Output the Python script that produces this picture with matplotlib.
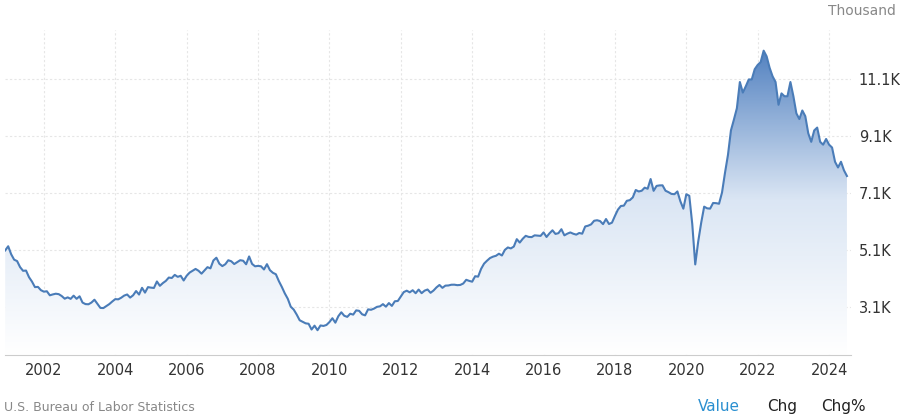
import numpy as np
import matplotlib.pyplot as plt
from matplotlib.colors import LinearSegmentedColormap

# job openings, thousands, monthly from Dec 2000
start_year = 2000 + 11 / 12
openings = [
    5088,
    5234, 4954, 4763, 4713, 4501, 4372, 4381, 4148, 3993, 3799, 3808, 3692,
    3640, 3654, 3512, 3543, 3568, 3552, 3486, 3393, 3440, 3387, 3499, 3389,
    3478, 3256, 3203, 3197, 3258, 3357, 3211, 3069, 3064, 3133, 3204, 3295,
    3378, 3370, 3427, 3502, 3541, 3432, 3512, 3662, 3538, 3775, 3606, 3799,
    3781, 3770, 3998, 3845, 3941, 4017, 4135, 4120, 4229, 4160, 4197, 4032,
    4197, 4309, 4373, 4438, 4373, 4272, 4384, 4500, 4458, 4736, 4832, 4621,
    4537, 4603, 4743, 4707, 4609, 4675, 4744, 4726, 4601, 4876, 4614, 4530,
    4545, 4531, 4419, 4605, 4395, 4302, 4251, 4011, 3807, 3580, 3391, 3112,
    3010, 2836, 2636, 2580, 2528, 2513, 2311, 2446, 2287, 2453, 2437, 2470,
    2571, 2707, 2551, 2778, 2916, 2793, 2755, 2865, 2834, 2983, 2967, 2845,
    2808, 3018, 3004, 3045, 3107, 3124, 3202, 3113, 3239, 3140, 3303, 3312,
    3469, 3625, 3674, 3616, 3690, 3585, 3713, 3587, 3675, 3716, 3600, 3679,
    3790, 3875, 3774, 3852, 3857, 3883, 3885, 3868, 3876, 3926, 4056, 4018,
    3990, 4182, 4167, 4439, 4624, 4728, 4820, 4869, 4899, 4972, 4910, 5107,
    5192, 5158, 5223, 5483, 5363, 5497, 5600, 5562, 5555, 5617, 5606, 5598,
    5720, 5560, 5688, 5794, 5667, 5693, 5832, 5617, 5676, 5719, 5673, 5642,
    5700, 5675, 5929, 5956, 6003, 6129, 6147, 6118, 6010, 6190, 6015, 6062,
    6299, 6519, 6648, 6659, 6830, 6852, 6949, 7209, 7157, 7183, 7291, 7253,
    7594, 7180, 7353, 7370, 7373, 7184, 7133, 7072, 7061, 7158, 6813, 6553,
    7060, 7005, 6011, 4596, 5402, 6059, 6624, 6565, 6555, 6753, 6747, 6726,
    7120, 7810, 8440, 9300, 9680, 10080, 11000, 10630, 10850, 11090, 11090, 11450,
    11600, 11700, 12100, 11900, 11500, 11200, 11000, 10200, 10600, 10500, 10500, 11000,
    10500, 9900, 9700, 10000, 9800, 9200, 8900, 9300, 9400, 8900, 8800, 9000,
    8800, 8700, 8200, 8000, 8200, 7900, 7700,
]
yticks = [3100, 5100, 7100, 9100, 11100]
ytick_labels = ['3.1K', '5.1K', '7.1K', '9.1K', '11.1K']
xticks = list(range(2002, 2025, 2))

x = start_year + np.arange(len(openings)) / 12
y = np.array(openings)

fig = plt.figure(figsize=(9, 4.19), dpi=100)
ax = fig.add_axes([0.005, 0.153, 0.94, 0.775])
ymin, ymax = 1420, 12820
ax.set_xlim(start_year - 0.02, 2024.6)
ax.set_ylim(ymin, ymax)

cmap = LinearSegmentedColormap.from_list('g', ['#ffffff', '#dbe6f4', '#4f7fbf'])
grad = np.linspace(0, 1, 256).reshape(-1, 1)
img = ax.imshow(grad, cmap=cmap, aspect='auto', origin='lower',
                extent=[x[0], x[-1], ymin, 12300], zorder=1)
poly = ax.fill_between(x, ymin, y, color='none')
img.set_clip_path(poly.get_paths()[0], transform=ax.transData)
ax.plot(x, y, color='#4a7cb8', lw=1.5, zorder=3)

ax.set_xticks(xticks)
ax.set_yticks(yticks)
ax.set_yticklabels(ytick_labels)
ax.yaxis.tick_right()
ax.tick_params(length=0, labelsize=10.5, colors='#333333')
ax.tick_params(axis='x', pad=6)
ax.tick_params(axis='y', pad=6)
ax.grid(True, color='#e6e6e6', lw=0.8, linestyle=(0, (2, 2)))
ax.set_axisbelow(True)
for s in ['top', 'right', 'left']:
    ax.spines[s].set_visible(False)
ax.spines['bottom'].set_color('#cccccc')

fig.text(0.995, 0.965, 'Thousand', ha='right', fontsize=10, color='#888888')
fig.text(0.005, 0.02, 'U.S. Bureau of Labor Statistics', fontsize=9, color='#888888')
fig.text(0.775, 0.02, 'Value', fontsize=11, color='#2a8fd0')
fig.text(0.852, 0.02, 'Chg', fontsize=11, color='#222222')
fig.text(0.912, 0.02, 'Chg%', fontsize=11, color='#222222')

fig.savefig('out.png', dpi=100)
